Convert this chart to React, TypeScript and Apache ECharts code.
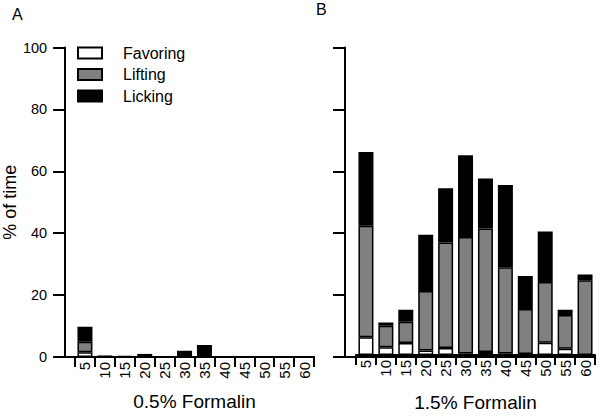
import React, { useEffect, useRef } from 'react';
import * as echarts from 'echarts';

const categories = ['5', '10', '15', '20', '25', '30', '35', '40', '45', '50', '55', '60'];

// 0.5% Formalin (panel A)
const favoring05 = [1.5, 0, 0, 0, 0, 0, 0, 0, 0, 0, 0, 0];
const lifting05 = [3.4, 0, 0, 0.2, 0, 0, 0, 0, 0, 0, 0, 0];
const licking05 = [4.9, 0.5, 0.4, 0.8, 0.2, 2.0, 3.9, 0.2, 0, 0, 0, 0];

// 1.5% Formalin (panel B)
const favoring15 = [5.8, 2.5, 3.9, 1.5, 2.3, 0.5, 1.0, 0.5, 0.3, 4.0, 2.0, 0];
const lifting15 = [36.2, 7.0, 6.9, 19.3, 34.3, 37.9, 40.1, 28.0, 14.7, 19.7, 11.0, 24.3];
const licking15 = [24.0, 1.1, 3.9, 18.3, 17.6, 26.6, 16.3, 26.8, 10.7, 16.5, 1.7, 1.9];

const seriesNames = ['Favoring', 'Lifting', 'Licking'];
const panelLabels = ['A', 'B'];
const xTitles = ['0.5% Formalin', '1.5% Formalin'];
const yTitle = '% of time';

const FONT = '"Liberation Sans", Arial, Helvetica, sans-serif';
const colors = ['#ffffff', '#808080', '#000000'];

export default function App() {
  const ref = useRef<HTMLDivElement>(null);

  useEffect(() => {
    const chart = echarts.init(ref.current!, null, { renderer: 'svg' });

    const top = 47.5;
    const height = 309.5;

    const axisGridX = (grid: number) => ({
      type: 'category',
      gridIndex: grid,
      data: categories,
      axisLine: { show: true, lineStyle: { color: '#000', width: 2 } },
      axisTick: { show: false },
      axisLabel: { show: false },
      splitLine: { show: false },
    });
    const barGridX = (grid: number, name: string, gap: number) => ({
      type: 'category',
      gridIndex: grid,
      data: categories,
      name,
      nameLocation: 'middle',
      nameGap: gap,
      nameTextStyle: { fontSize: 19, color: '#000', fontFamily: FONT },
      axisLine: { show: true, lineStyle: { color: '#000', width: 2 } },
      axisTick: { show: true, length: 10, alignWithLabel: false, lineStyle: { color: '#000', width: 2 } },
      axisLabel: { show: true, rotate: 90, interval: 0, margin: 5, fontSize: 15, color: '#000', fontFamily: FONT },
      splitLine: { show: false },
    });
    const visibleY = (grid: number, labels: boolean) => ({
      type: 'value',
      gridIndex: grid,
      min: 0,
      max: 100,
      interval: 20,
      name: labels ? yTitle : '',
      nameLocation: 'middle',
      nameGap: 41,
      nameTextStyle: { fontSize: 18, color: '#000', fontFamily: FONT },
      axisLine: { show: true, lineStyle: { color: '#000', width: 2 } },
      axisTick: { show: true, length: 12, lineStyle: { color: '#000', width: 2 } },
      axisLabel: { show: labels, margin: 18, fontSize: 14.5, color: '#000', fontFamily: FONT },
      splitLine: { show: false },
    });
    const hiddenY = (grid: number) => ({
      type: 'value',
      gridIndex: grid,
      min: 0,
      max: 100,
      interval: 20,
      show: false,
      splitLine: { show: false },
    });

    const mkSeries = (values: number[][], axisIdx: number, stack: string) =>
      values.map((vals, i) => ({
        type: 'bar',
        name: seriesNames[i],
        stack,
        xAxisIndex: axisIdx,
        yAxisIndex: axisIdx,
        barWidth: 15,
        data: vals,
        itemStyle: { color: colors[i], borderColor: '#000', borderWidth: 1.5 },
        emphasis: { disabled: true },
      }));

    chart.setOption({
      animation: false,
      backgroundColor: '#ffffff',
      textStyle: { fontFamily: FONT },
      title: [
        { text: panelLabels[0], left: 12, top: 6, padding: 0, textStyle: { fontSize: 16, fontWeight: 'normal', color: '#000', fontFamily: FONT } },
        { text: panelLabels[1], left: 316, top: 1, padding: 0, textStyle: { fontSize: 16, fontWeight: 'normal', color: '#000', fontFamily: FONT } },
      ],
      legend: {
        data: seriesNames,
        orient: 'vertical',
        left: 77,
        top: 45,
        padding: 0,
        itemWidth: 24,
        itemHeight: 11,
        itemGap: 5.5,
        icon: 'rect',
        selectedMode: false,
        textStyle: { fontSize: 16, color: '#000', lineHeight: 16, padding: [0, 0, 0, 16], fontFamily: FONT },
      },
      grid: [
        { left: 65, top, width: 249, height },
        { left: 75, top, width: 239, height },
        { left: 345, top, width: 250, height },
        { left: 356, top, width: 239, height },
      ],
      xAxis: [
        axisGridX(0),
        barGridX(1, xTitles[0], 35),
        axisGridX(2),
        barGridX(3, xTitles[1], 38),
      ],
      yAxis: [visibleY(0, true), hiddenY(1), visibleY(2, false), hiddenY(3)],
      series: [
        ...mkSeries([favoring05, lifting05, licking05], 1, 'A'),
        ...mkSeries([favoring15, lifting15, licking15], 3, 'B'),
      ],
    });

    return () => chart.dispose();
  }, []);

  return (
    <div
      ref={ref}
      style={{ position: 'absolute', left: 0, top: 0, width: 602, height: 417, background: '#fff' }}
    />
  );
}
